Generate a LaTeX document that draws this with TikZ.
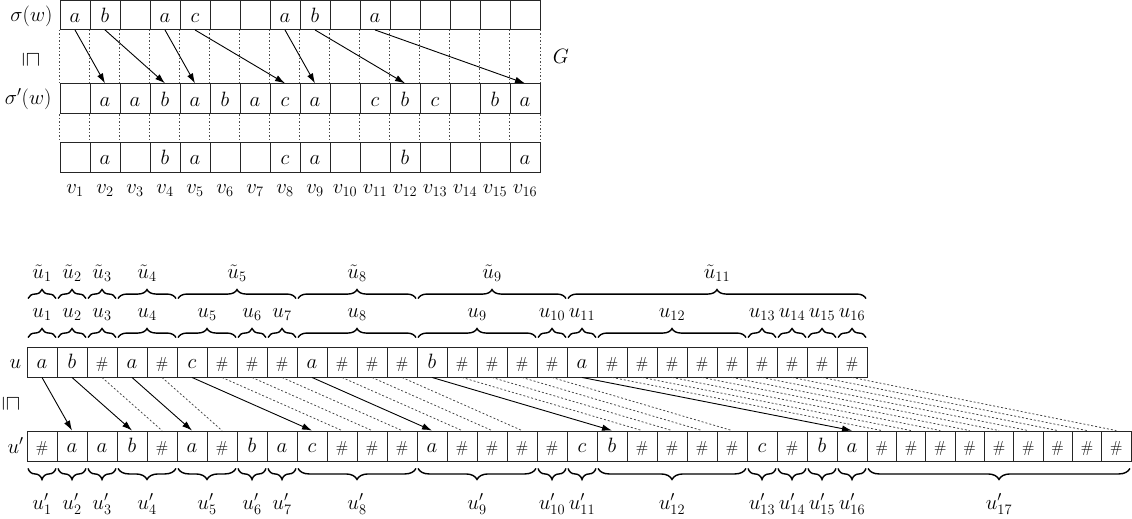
\documentclass[tikz,border=0pt]{standalone}
\usetikzlibrary{arrows.meta,decorations.pathreplacing,calc}
\def\tmpn{n}\def\tmph{h}
\newcommand\cellsym[1]{\edef\tmparg{#1}\ifx\tmparg\tmpn\else\ifx\tmparg\tmph{\fontsize{16}{16}\selectfont\#}\else{\fontsize{22}{24}\selectfont$\tmparg$}\fi\fi}
\begin{document}
\begin{tikzpicture}[x=1pt,y=-1pt,font=\fontsize{20}{24}\selectfont,
  cell/.style={draw=black!85,line width=0.9pt,inner sep=0pt,minimum width=30pt,minimum height=30pt,text height=15pt,text depth=0.5pt},
  cellb/.style={cell,text height=14pt},
  arr/.style={line width=0.9pt,-{Latex[length=10pt,width=6.5pt]}},
  dotv/.style={black!70,line width=0.8pt,dash pattern=on 1.5pt off 2pt},
  diag/.style={black!75,line width=0.75pt,dash pattern=on 2pt off 2pt},
  brc/.style={decorate,decoration={brace,amplitude=9pt},line width=1.4pt},
  brcm/.style={decorate,decoration={brace,amplitude=11pt,mirror},line width=1.4pt},
  sq/.style={rotate=-90,font=\fontsize{20}{20}\selectfont,inner sep=0pt}]
\useasboundingbox (0,0) rectangle (1132,519);
% ---------- top part ----------
\foreach \s [count=\i] in {a,b,n,a,c,n,n,a,b,n,a,n,n,n,n,n}
  \node[cell,minimum height=29pt] (ta\i) at ({45+30*\i},15) {\cellsym{\s}};
\foreach \s [count=\i] in {n,a,a,b,a,b,a,c,a,n,c,b,c,n,b,a}
  \node[cell] (tb\i) at ({45+30*\i},98.8) {\cellsym{\s}};
\foreach \s [count=\i] in {n,a,n,b,a,n,n,c,a,n,n,b,n,n,n,a}
  \node[cell] (tc\i) at ({45+30*\i},157.7) {\cellsym{\s}};
\foreach \i in {1,...,16}{
  \draw[dotv] (ta\i.south west) -- (tb\i.north west);
  \draw[dotv] (tb\i.south west) -- (tc\i.north west);
  \node[anchor=base] (v\i) at ([yshift=-20.3pt]tc\i.south) {$v_{\i}$};
}
\draw[dotv] (ta16.south east) -- (tb16.north east);
\draw[dotv] (tb16.south east) -- (tc16.north east);
\foreach \a/\b in {1/2,2/4,4/5,5/8,8/9,9/12,11/16}
  \draw[arr] (ta\a.south) -- (tb\b.north);
\node[anchor=base east] (lsig) at (56,22) {$\sigma(w)$};
\node[anchor=base east] (lsigp) at (55,104) {$\sigma'(w)$};
\node[sq] (sq1) at (31,60) {$\sqsubseteq$};
\node (G) at (561,56) {$G$};
% ---------- bottom part ----------
\foreach \s [count=\i] in {a,b,h,a,h,c,h,h,h,a,h,h,h,b,h,h,h,h,a,h,h,h,h,h,h,h,h,h}
  \node[cellb] (u\i) at ({12+30*\i},362) {\cellsym{\s}};
\foreach \s [count=\i] in {h,a,a,b,h,a,h,b,a,c,h,h,h,a,h,h,h,h,c,b,h,h,h,h,c,h,b,a}
  \node[cellb] (p\i) at ({12+30*\i},446) {\cellsym{\s}};
\foreach \k in {1,...,9}{
  \pgfmathtruncatemacro\j{28+\k}
  \node[cellb,minimum width=29.33pt] (p\j) at ({867+29.33*(\k-0.5)},446) {\cellsym{h}};
}
\node[anchor=base west] (lu) at (6,368) {$u$};
\node[anchor=base west] (lup) at (4,453) {$u'$};
\node[sq] (sq2) at (11,404) {$\sqsubseteq$};
\foreach \a/\b in {3/5,5/7,7/11,8/12,9/13,11/15,12/16,13/17,15/21,16/22,17/23,18/24,20/29,21/30,22/31,23/32,24/33,25/34,26/35,27/36,28/37}
  \draw[diag] (u\a.south) -- (p\b.north);
\foreach \a/\b in {1/2,2/4,4/6,6/10,10/14,14/20,19/28}
  \draw[arr] (u\a.south) -- (p\b.north);
% braces above u (u-tilde)
\foreach \a/\b/\k in {1/1/1,2/2/2,3/3/3,4/5/4,6/9/5,10/13/8,14/18/9,19/28/11}{
  \draw[brc] ([xshift=1.5pt,yshift=48pt]u\a.north west) -- ([xshift=-1.5pt,yshift=48pt]u\b.north east);
  \node[anchor=base] (tl\k) at ($([yshift=68pt]u\a.north west)!0.5!([yshift=68pt]u\b.north east)$) {$\tilde u_{\k}$};
}
% braces above u
\foreach \a/\b/\k in {1/1/1,2/2/2,3/3/3,4/5/4,6/7/5,8/8/6,9/9/7,10/13/8,14/17/9,18/18/10,19/19/11,20/24/12,25/25/13,26/26/14,27/27/15,28/28/16}{
  \draw[brc] ([xshift=1.5pt,yshift=9pt]u\a.north west) -- ([xshift=-1.5pt,yshift=9pt]u\b.north east);
  \node[anchor=base] (ul\k) at ($([yshift=29pt]u\a.north west)!0.5!([yshift=29pt]u\b.north east)$) {$u_{\k}$};
}
% braces below u'
\foreach \a/\b/\k in {1/1/1,2/2/2,3/3/3,4/5/4,6/7/5,8/8/6,9/9/7,10/13/8,14/17/9,18/18/10,19/19/11,20/24/12,25/25/13,26/26/14,27/27/15,28/28/16,29/37/17}{
  \draw[brcm] ([xshift=1.5pt,yshift=-7pt]p\a.south west) -- ([xshift=-1.5pt,yshift=-7pt]p\b.south east);
  \node[anchor=base] (pl\k) at ($([yshift=-48pt]p\a.south west)!0.5!([yshift=-48pt]p\b.south east)$) {$u'_{\k}$};
}
\end{tikzpicture}
\end{document}
